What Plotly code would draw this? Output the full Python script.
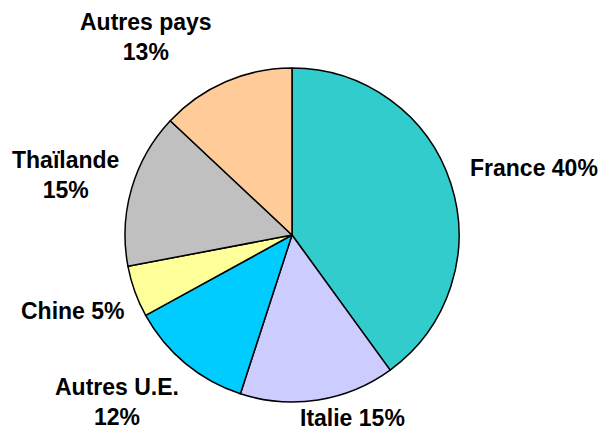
import plotly.graph_objects as go

labels = ["France", "Italie", "Autres U.E.", "Chine", "Thaïlande", "Autres pays"]
values = [40, 15, 12, 5, 15, 13]
colors = ["#33CCCC", "#CCCCFF", "#00CCFF", "#FFFF99", "#C0C0C0", "#FFCC99"]
label_texts = ["France 40%", "Italie 15%", "Autres U.E.<br>12%", "Chine 5%",
               "Thaïlande<br>15%", "Autres pays<br>13%"]

W, H = 602, 430
# label block centers in pixels (x, y from top)
label_pos = [(534, 168), (352, 418), (117, 402), (73, 311), (65, 175), (146, 37)]

cx, cy, r = 292, 235, 167

fig = go.Figure(go.Pie(
    labels=labels, values=values, sort=False, direction="clockwise", rotation=0,
    marker=dict(colors=colors, line=dict(color="black", width=1.5)),
    textinfo="none", hoverinfo="label+percent", showlegend=False,
    domain=dict(x=[(cx - r) / W, (cx + r) / W], y=[(H - cy - r) / H, (H - cy + r) / H]),
))

for t, (px, py) in zip(label_texts, label_pos):
    fig.add_annotation(
        text="<b>" + t.replace("<br>", "</b><br><b>") + "</b>",
        x=px / W, y=1 - py / H, xref="paper", yref="paper",
        xanchor="center", yanchor="middle", showarrow=False, align="center",
        font=dict(family="Liberation Sans, Arial, sans-serif", size=23, color="black"),
    )

fig.update_layout(
    width=W, height=H, margin=dict(l=0, r=0, t=0, b=0),
    paper_bgcolor="white", plot_bgcolor="white",
)
html = fig.to_html(full_html=True, include_plotlyjs=True, config={"displayModeBar": False})
html = html.replace("<head>", "<head><style>html,body{margin:0;padding:0;overflow:hidden;}</style>", 1)
with open("out.html", "w", encoding="utf-8") as f:
    f.write(html)
